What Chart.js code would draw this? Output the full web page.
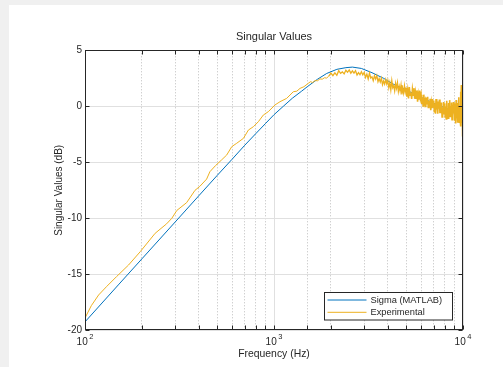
<!DOCTYPE html>
<html>
<head>
<meta charset="utf-8">
<script src="https://cdn.jsdelivr.net/npm/chart.js@4.4.1/dist/chart.umd.min.js"></script>
<style>
  html, body { margin: 0; padding: 0; background: #f0f0f0; }
  canvas { display: block; }
</style>
</head>
<body>
<canvas id="sv" width="503" height="367"></canvas>
<script>
// Sigma (MATLAB) - frequency in Hz, magnitude in dB
const sigmaFreq = [100, 150, 200, 300, 400, 500, 600, 700, 800, 900,
    1000, 1120, 1250, 1400, 1500, 1700, 1900, 2150, 2400, 2600,
    2900, 3300, 3800, 4300, 5000, 5900, 6700, 7500, 8500, 10000];
const sigmaDb = [-19.25, -15.95, -13.62, -10.33, -7.99, -6.18, -4.73, -3.48, -2.45, -1.55,
    -0.75, 0, 0.72, 1.35, 1.75, 2.42, 2.93, 3.3, 3.45, 3.5,
    3.38, 3.0, 2.5, 1.96, 1.46, 0.86, 0.41, 0.05, -0.3, -0.75];

// Experimental - smooth part (< 2 kHz)
const expFreqLow = [100, 108, 118, 130, 147, 170, 196, 235, 270, 288,
    306, 345, 382, 405, 440, 458, 490, 528, 562, 598,
    635, 689, 732, 778, 827, 878, 933, 1012, 1076, 1167,
    1265, 1320, 1373, 1440, 1518, 1560, 1600, 1650, 1700, 1750,
    1800, 1850, 1900, 1950];
const expDbLow = [-18.9, -17.8, -16.85, -16.1, -15.2, -14.17, -12.98, -11.34, -10.5, -10.0,
    -9.3, -8.6, -7.5, -7.15, -6.5, -5.84, -5.3, -4.79, -4.35, -3.6,
    -3.3, -2.86, -2.12, -1.82, -1.37, -0.78, -0.48, 0.12, 0.41, 0.71,
    1.3, 1.35, 1.6, 1.75, 2.05, 2.2, 2.12, 2.3, 2.28, 2.45,
    2.42, 2.55, 2.52, 2.7];

// Experimental - noisy part, 2 kHz .. 6 kHz
const expFreqMid = [2000, 2050, 2100, 2150, 2200, 2250, 2300, 2350, 2400, 2450,
    2500, 2550, 2600, 2650, 2700, 2750, 2800, 2850, 2900, 2950,
    3000, 3050, 3100, 3150, 3200, 3250, 3300, 3350, 3400, 3450,
    3500, 3550, 3600, 3650, 3700, 3750, 3800, 3850, 3900, 3950,
    4000, 4050, 4100, 4150, 4200, 4250, 4300, 4350, 4400, 4450,
    4500, 4550, 4600, 4650, 4700, 4750, 4800, 4850, 4900, 4950,
    5000, 5050, 5100, 5150, 5200, 5250, 5300, 5350, 5400, 5450,
    5500, 5550, 5600, 5650, 5700, 5750, 5800, 5850, 5900, 5950];
const expDbMid = [2.97, 2.73, 2.99, 2.77, 3.18, 2.95, 3.07, 2.89, 3.22, 3.05,
    3.25, 2.96, 3.17, 2.96, 3.18, 2.80, 3.01, 2.82, 3.08, 2.81,
    3.02, 2.57, 2.87, 2.44, 2.97, 2.53, 2.63, 2.29, 2.73, 2.43,
    2.75, 2.19, 2.48, 2.17, 2.52, 1.94, 2.26, 1.98, 2.39, 2.00,
    2.32, 1.65, 2.11, 1.47, 2.29, 1.66, 1.85, 1.37, 2.05, 1.61,
    2.11, 1.32, 1.78, 1.35, 1.90, 1.06, 1.57, 1.18, 1.83, 1.26,
    1.66, 0.86, 1.44, 0.70, 1.72, 0.98, 1.23, 0.66, 1.51, 0.99,
    1.62, 0.67, 1.24, 0.73, 1.42, 0.41, 1.05, 0.59, 1.40, 0.72];

// Experimental - noisy part, 6 kHz .. 10 kHz
const expFreqHigh = [6000, 6050, 6100, 6150, 6200, 6250, 6300, 6350, 6400, 6450,
    6500, 6550, 6600, 6650, 6700, 6750, 6800, 6850, 6900, 6950,
    7000, 7050, 7100, 7150, 7200, 7250, 7300, 7350, 7400, 7450,
    7500, 7550, 7600, 7650, 7700, 7750, 7800, 7850, 7900, 7950,
    8000, 8050, 8100, 8150, 8200, 8250, 8300, 8350, 8400, 8450,
    8500, 8550, 8600, 8650, 8700, 8750, 8800, 8850, 8900, 8950,
    9000, 9050, 9100, 9150, 9200, 9250, 9300, 9350, 9400, 9450,
    9500, 9550, 9600, 9650, 9700, 9750, 9800, 9850, 9900, 9950,
    10000];
const expDbHigh = [1.03, 0.22, 0.79, 0.03, 1.04, 0.28, 0.52, -0.08, 0.77, 0.23,
    0.85, -0.11, 0.48, -0.04, 0.66, -0.35, 0.29, -0.17, 0.64, -0.05,
    0.52, -0.48, 0.27, -0.66, 0.65, -0.28, 0.05, -0.67, 0.43, -0.22,
    0.60, -0.62, 0.12, -0.54, 0.34, -0.95, -0.11, -0.67, 0.38, -0.46,
    0.26, -0.94, -0.02, -1.12, 0.49, -0.62, -0.21, -1.06, 0.30, -0.47,
    0.55, -0.91, 0.02, -0.76, 0.34, -1.20, -0.19, -0.88, 0.39, -0.65,
    0.26, -1.29, -0.09, -1.53, 0.55, -0.89, -0.35, -1.46, 0.29, -0.71,
    0.80, -1.41, 0.02, -1.15, 1.30, -1.80, 1.90, -1.50, 1.20, -2.70,
    0.5];

const yTicks = [-20, -15, -10, -5, 0, 5];
const xMajor = [100, 1000, 10000];
const xExp = ['2', '3', '4'];

const seriesNames = ['Sigma (MATLAB)', 'Experimental'];
const seriesColors = ['#0072BD', '#EDB120'];

const FONT = "'Liberation Sans', Arial, Helvetica, sans-serif";
const INK = '#262626';
Chart.defaults.font.family = FONT;
Chart.defaults.color = INK;

const toPts = (fs, ds) => fs.map((f, i) => ({ x: f, y: ds[i] }));
const sigmaPts = toPts(sigmaFreq, sigmaDb);
const expPts = toPts(expFreqLow, expDbLow)
    .concat(toPts(expFreqMid, expDbMid))
    .concat(toPts(expFreqHigh, expDbHigh));

const isDecade = v => Math.abs(Math.log10(v) - Math.round(Math.log10(v))) < 1e-6;

// noisy stretch looks heavier in the original
const noiseWidth = ctx => {
    const f = ctx.p0.parsed.x;
    if (f >= 5000) return 1.6;
    if (f >= 1950) return 1.3;
    return 1;
};

// grey figure frame, white figure body
const figureBg = {
    id: 'figureBg',
    beforeDraw(chart) {
        const c = chart.ctx;
        c.save();
        c.fillStyle = '#f0f0f0';
        c.fillRect(0, 0, chart.width, chart.height);
        c.fillStyle = '#ffffff';
        c.fillRect(9, 5, chart.width - 9, chart.height - 5);
        c.restore();
    }
};

// MATLAB style box: inward ticks, x labels 10^n, legend
const axesBox = {
    id: 'axesBox',
    afterDraw(chart) {
        const c = chart.ctx, a = chart.chartArea;
        const xs = chart.scales.x, ys = chart.scales.y;
        const L = Math.round(a.left) + 0.5, R = Math.round(a.right) - 0.5;
        const T = Math.round(a.top) + 0.5, B = Math.round(a.bottom) - 0.5;
        c.save();
        c.strokeStyle = INK;
        c.lineWidth = 1;
        c.beginPath();
        xs.ticks.forEach(t => {
            const px = Math.round(xs.getPixelForValue(t.value)) + 0.5;
            c.moveTo(px, B); c.lineTo(px, B - 4);
            c.moveTo(px, T); c.lineTo(px, T + 4);
        });
        ys.ticks.forEach(t => {
            const py = Math.round(ys.getPixelForValue(t.value)) + 0.5;
            c.moveTo(L, py); c.lineTo(L + 4, py);
            c.moveTo(R, py); c.lineTo(R - 4, py);
        });
        c.stroke();
        c.strokeRect(L, T, R - L, B - T);

        // x tick labels: 10 with exponent
        c.fillStyle = INK;
        c.textBaseline = 'alphabetic';
        c.textAlign = 'left';
        xMajor.forEach((v, i) => {
            const px = xs.getPixelForValue(v);
            c.font = '10px ' + FONT;
            const wb = c.measureText('10').width;
            c.font = '7.5px ' + FONT;
            const we = c.measureText(xExp[i]).width;
            const x0 = px - (wb + 1.5 + we) / 2;
            c.font = '10px ' + FONT;
            c.fillText('10', x0, a.bottom + 14.5);
            c.font = '7.5px ' + FONT;
            c.fillText(xExp[i], x0 + wb + 1.5, a.bottom + 8.5);
        });

        // legend
        const bw = 128, bh = 27.5;
        const bx = Math.round(a.right - 10.7 - bw) + 0.5;
        const by = Math.round(a.bottom - 11 - bh) + 0.5;
        c.fillStyle = '#ffffff';
        c.fillRect(bx, by, bw, bh);
        c.strokeStyle = INK;
        c.strokeRect(bx, by, bw, bh);
        c.font = '9.3px ' + FONT;
        c.textBaseline = 'middle';
        seriesNames.forEach((name, i) => {
            const ly = by + 7.5 + i * 12.3;
            c.strokeStyle = seriesColors[i];
            c.beginPath();
            c.moveTo(bx + 3, ly); c.lineTo(bx + 42, ly);
            c.stroke();
            c.fillStyle = INK;
            c.fillText(name, bx + 46, ly + 0.5);
        });
        c.restore();
    }
};

new Chart(document.getElementById('sv'), {
    type: 'line',
    data: {
        datasets: [
            { label: seriesNames[0], data: sigmaPts, borderColor: seriesColors[0],
              borderWidth: 1, pointRadius: 0, tension: 0, order: 2 },
            { label: seriesNames[1], data: expPts, borderColor: seriesColors[1],
              borderWidth: 1, pointRadius: 0, tension: 0, order: 1,
              segment: { borderWidth: noiseWidth } }
        ]
    },
    options: {
        responsive: false,
        animation: false,
        devicePixelRatio: 1,
        layout: { padding: { left: 9, top: 5, right: 40, bottom: 0 } },
        plugins: {
            legend: { display: false },
            tooltip: { enabled: false },
            title: {
                display: true,
                text: 'Singular Values',
                fullSize: false,
                color: INK,
                font: { size: 11, weight: 'normal', family: FONT },
                padding: { top: 25, bottom: 7.1 }
            }
        },
        scales: {
            x: {
                type: 'logarithmic',
                min: 100,
                max: 10000,
                afterFit: s => { s.height = 36.7; },
                ticks: { display: false, autoSkip: false },
                grid: {
                    drawTicks: false,
                    color: ctx => (ctx.tick && !isDecade(ctx.tick.value)) ? '#bdbdbd' : '#e0e0e0',
                    lineWidth: 1
                },
                border: {
                    display: false,
                    dash: ctx => (ctx.tick && !isDecade(ctx.tick.value)) ? [1, 2] : []
                },
                title: {
                    display: true,
                    text: 'Frequency (Hz)',
                    color: INK,
                    font: { size: 10.4, family: FONT },
                    padding: { top: 0, bottom: 7 }
                }
            },
            y: {
                min: -20,
                max: 5,
                afterFit: s => { s.width = 76; },
                afterBuildTicks: s => { s.ticks = yTicks.map(v => ({ value: v })); },
                ticks: { padding: 3, color: INK, font: { size: 10, family: FONT } },
                grid: { drawTicks: false, color: '#e0e0e0', lineWidth: 1 },
                border: { display: false },
                title: {
                    display: true,
                    text: 'Singular Values (dB)',
                    color: INK,
                    font: { size: 10, family: FONT },
                    padding: { top: 44, bottom: 0 }
                }
            }
        }
    },
    plugins: [figureBg, axesBox]
});
</script>
</body>
</html>
